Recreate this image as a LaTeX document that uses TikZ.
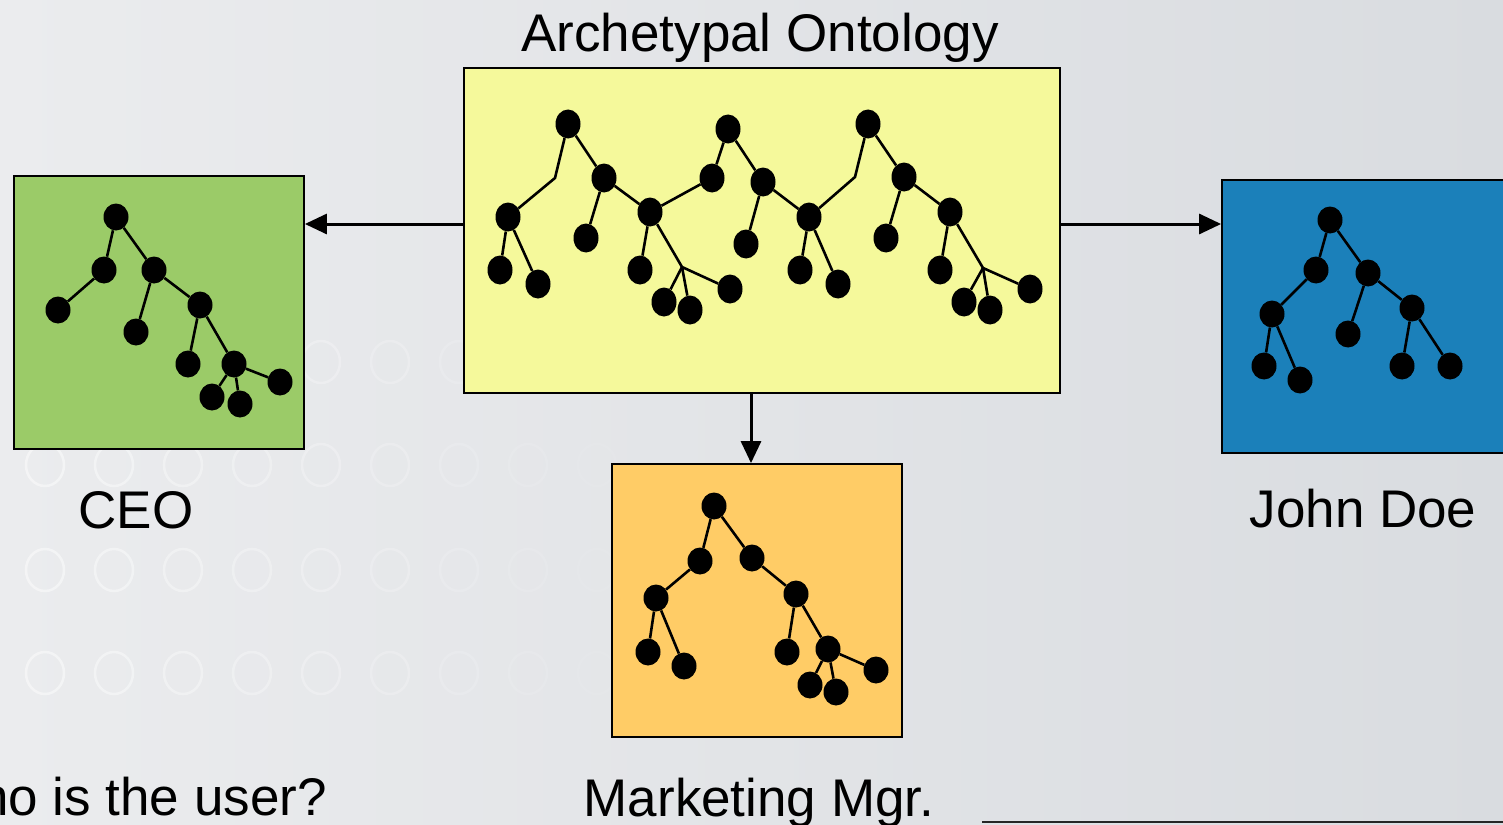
\documentclass[tikz,border=0pt]{standalone}
\usepackage{fontspec}
\setmainfont{Liberation Sans}
\usetikzlibrary{shapes.geometric,arrows.meta}
\definecolor{bgL}{HTML}{EBECEE}
\definecolor{bgR}{HTML}{D9DCE0}
\definecolor{yel}{HTML}{F5F99B}
\definecolor{grn}{HTML}{9BCB68}
\definecolor{org}{HTML}{FFCC66}
\definecolor{blu}{HTML}{1B80BA}
\tikzset{
  dot/.style={ellipse,fill=black,draw=none,minimum width=25pt,minimum height=29pt,inner sep=0pt},
  sdot/.style={ellipse,fill=black,draw=none,minimum width=25pt,minimum height=27pt,inner sep=0pt},
  edge/.style={line width=2.6pt,black},
  panel/.style={draw=black,line width=1.8pt,inner sep=0pt},
  conn/.style={line width=3pt,-{Triangle[length=22pt,width=20pt]}},
  lbl/.style={font=\fontsize{53}{58}\selectfont,anchor=base,inner sep=0pt}
}
\begin{document}
\begin{tikzpicture}[x=1pt,y=-1pt]
\useasboundingbox (0,0) rectangle (1503,824);
% background
\shade[left color=bgL,right color=bgR] (0,0) rectangle (1503,824);
\foreach \r in {362,465,570,673}{
  \foreach \c [count=\i] in {-24,45,114,183,252,321,390,459,528,597}{
    \pgfmathsetmacro{\op}{max(0,0.55-0.05*\i)}
    \draw[white,line width=2.5pt,opacity=\op] (\c,\r) ellipse [x radius=19,y radius=21];
  }
}
% panels
\node[panel,fill=yel,minimum width=596pt,minimum height=325pt] (yel) at (762,230.5) {};
\node[panel,fill=grn,minimum width=290pt,minimum height=273pt] (grn) at (159,312.5) {};
\node[panel,fill=org,minimum width=290pt,minimum height=273pt] (org) at (757,600.5) {};
\node[panel,fill=blu,minimum width=290pt,minimum height=273pt] (blu) at (1367,316.5) {};
% connectors
\coordinate (yl) at (464,224);
\coordinate (yr) at (1060,224);
\coordinate (yb) at (751,393);
\draw[conn] (yl) -- (yl -| grn.east);
\draw[conn] (yr) -- (yr -| blu.west);
\draw[conn] (yb) -- (yb |- org.north);
% labels
\node[lbl] (tArch) at (760,52) {Archetypal Ontology};
\node[lbl] (tCEO) at (136,528) {CEO};
\node[lbl] (tJohn) at (1363,527) {John Doe};
\node[lbl] (tMkt) at (759,816) {Marketing Mgr.};
\node[lbl,anchor=base east] (tWho) at (327,815) {Who is the user?};
% bottom-right line
\coordinate (bl) at (982,822);
\coordinate (br) at (1503,822);
\draw[line width=2.2pt,black!85] (bl) -- (br);

% ===== yellow tree =====
\node[dot] (A1) at (568,124) {};
\coordinate (k1) at (555,178);
\node[dot] (B1) at (508,217) {};
\node[dot] (B1a) at (500,270) {};
\node[dot] (B1b) at (538,284) {};
\node[dot] (C1) at (604,178) {};
\node[dot] (C1a) at (586,238) {};
\node[dot] (D1) at (650,212) {};
\node[dot] (D1a) at (640,270) {};
\coordinate (J1) at (682,267);
\node[dot] (J1a) at (664,302) {};
\node[dot] (J1b) at (690,310) {};
\node[dot] (J1c) at (730,289) {};
\node[dot] (E1) at (712,178) {};
\node[dot] (A2) at (728,129) {};
\node[dot] (F2) at (763,182) {};
\node[dot] (F2a) at (746,244) {};
\node[dot] (G2) at (809,217) {};
\node[dot] (G2a) at (800,270) {};
\node[dot] (G2b) at (838,284) {};
\coordinate (k3) at (855,177);
\node[dot] (A3) at (868,124) {};
\node[dot] (H3) at (904,177) {};
\node[dot] (H3a) at (886,238) {};
\node[dot] (I3) at (950,212) {};
\node[dot] (I3a) at (940,270) {};
\coordinate (J3) at (983,268);
\node[dot] (J3a) at (964,302) {};
\node[dot] (J3b) at (990,310) {};
\node[dot] (J3c) at (1030,289) {};
\draw[edge] (A1) -- (k1) -- (B1);
\draw[edge] (B1) -- (B1a);
\draw[edge] (B1) -- (B1b);
\draw[edge] (A1) -- (C1);
\draw[edge] (C1) -- (C1a);
\draw[edge] (C1) -- (D1);
\draw[edge] (D1) -- (D1a);
\draw[edge] (D1) -- (J1);
\draw[edge] (J1) -- (J1a);
\draw[edge] (J1) -- (J1b);
\draw[edge] (J1) -- (J1c);
\draw[edge] (D1) -- (E1);
\draw[edge] (A2) -- (E1);
\draw[edge] (A2) -- (F2);
\draw[edge] (F2) -- (F2a);
\draw[edge] (F2) -- (G2);
\draw[edge] (G2) -- (G2a);
\draw[edge] (G2) -- (G2b);
\draw[edge] (G2) -- (k3) -- (A3);
\draw[edge] (A3) -- (H3);
\draw[edge] (H3) -- (H3a);
\draw[edge] (H3) -- (I3);
\draw[edge] (I3) -- (I3a);
\draw[edge] (I3) -- (J3);
\draw[edge] (J3) -- (J3a);
\draw[edge] (J3) -- (J3b);
\draw[edge] (J3) -- (J3c);

% ===== green tree =====
\node[sdot] (gr) at (116,217) {};
\node[sdot] (ga) at (104,270) {};
\node[sdot] (gaa) at (58,310) {};
\node[sdot] (gb) at (154,270) {};
\node[sdot] (gba) at (136,332) {};
\node[sdot] (gc) at (200,305) {};
\node[sdot] (gca) at (188,364) {};
\node[sdot] (gd) at (234,364) {};
\node[sdot] (gda) at (212,397) {};
\node[sdot] (gdb) at (240,404) {};
\node[sdot] (gdc) at (280,382) {};
\draw[edge] (gr) -- (ga);
\draw[edge] (ga) -- (gaa);
\draw[edge] (gr) -- (gb);
\draw[edge] (gb) -- (gba);
\draw[edge] (gb) -- (gc);
\draw[edge] (gc) -- (gca);
\draw[edge] (gc) -- (gd);
\draw[edge] (gd) -- (gda);
\draw[edge] (gd) -- (gdb);
\draw[edge] (gd) -- (gdc);

% ===== orange tree =====
\node[sdot] (or) at (714,506) {};
\node[sdot] (oa) at (700,561) {};
\node[sdot] (ob) at (752,558) {};
\node[sdot] (oc) at (656,598) {};
\node[sdot] (oca) at (648,652) {};
\node[sdot] (ocb) at (684,666) {};
\node[sdot] (od) at (796,594) {};
\node[sdot] (oda) at (787,652) {};
\node[sdot] (oe) at (828,649) {};
\node[sdot] (oea) at (810,685) {};
\node[sdot] (oeb) at (836,692) {};
\node[sdot] (oec) at (876,670) {};
\draw[edge] (or) -- (oa);
\draw[edge] (or) -- (ob);
\draw[edge] (oa) -- (oc);
\draw[edge] (oc) -- (oca);
\draw[edge] (oc) -- (ocb);
\draw[edge] (ob) -- (od);
\draw[edge] (od) -- (oda);
\draw[edge] (od) -- (oe);
\draw[edge] (oe) -- (oea);
\draw[edge] (oe) -- (oeb);
\draw[edge] (oe) -- (oec);

% ===== blue tree =====
\node[sdot] (br0) at (1330,220) {};
\node[sdot] (ba) at (1316,270) {};
\node[sdot] (bb) at (1368,273) {};
\node[sdot] (bc) at (1272,314) {};
\node[sdot] (bca) at (1264,366) {};
\node[sdot] (bcb) at (1300,380) {};
\node[sdot] (bba) at (1348,334) {};
\node[sdot] (bd) at (1412,308) {};
\node[sdot] (bda) at (1402,366) {};
\node[sdot] (bdb) at (1450,366) {};
\draw[edge] (br0) -- (ba);
\draw[edge] (br0) -- (bb);
\draw[edge] (ba) -- (bc);
\draw[edge] (bc) -- (bca);
\draw[edge] (bc) -- (bcb);
\draw[edge] (bb) -- (bba);
\draw[edge] (bb) -- (bd);
\draw[edge] (bd) -- (bda);
\draw[edge] (bd) -- (bdb);
\end{tikzpicture}
\end{document}
